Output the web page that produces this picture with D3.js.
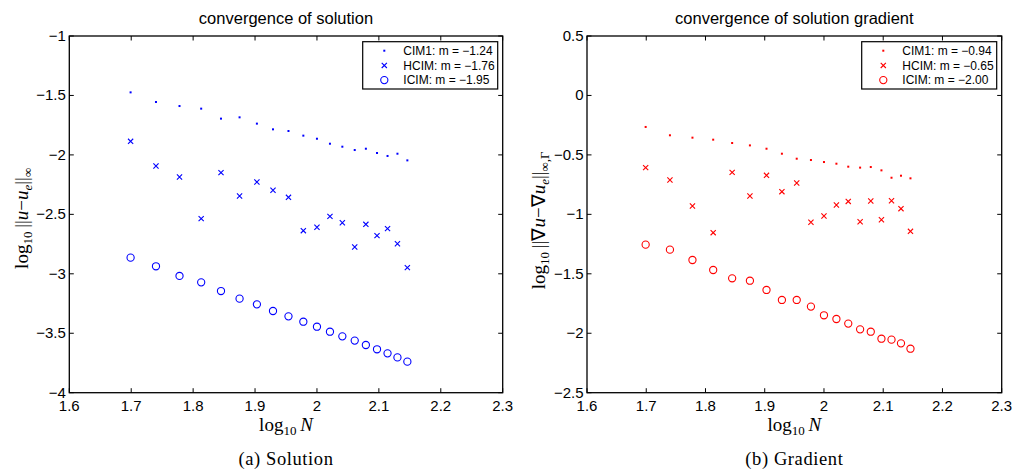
<!DOCTYPE html>
<html>
<head>
<meta charset="utf-8">
<script src="https://cdn.jsdelivr.net/npm/d3@7"></script>
<style>
  html, body { margin: 0; padding: 0; background: #fff; }
  svg { display: block; }
  .tick-label { font-family: "Liberation Sans", Arial, sans-serif; font-size: 15px; fill: #000; }
  .title { font-family: "Liberation Sans", Arial, sans-serif; font-size: 16.5px; fill: #000; }
  .legend-text { font-family: "Liberation Sans", Arial, sans-serif; font-size: 12px; fill: #000; }
  .math { font-family: "Liberation Serif", "Times New Roman", serif; font-size: 19px; fill: #000; }
  .caption { font-family: "Liberation Serif", "Times New Roman", serif; font-size: 18.5px; letter-spacing: 0.6px; fill: #000; }
</style>
</head>
<body>
<svg id="chart" width="1017" height="470"></svg>
<script>
// log10 N for each grid size
const logN = [1.699, 1.740, 1.778, 1.813, 1.845, 1.875, 1.903, 1.929, 1.954, 1.978,
              2.000, 2.021, 2.041, 2.061, 2.079, 2.097, 2.114, 2.130, 2.146];

// Solution error, log10 ||u - u_e||_inf
const solCIM1 = [-1.474, -1.555, -1.589, -1.611, -1.695, -1.684, -1.737, -1.785, -1.799, -1.838,
                 -1.864, -1.906, -1.931, -1.959, -1.948, -1.984, -2.009, -1.990, -2.046];
const solHCIM = [-1.886, -2.093, -2.186, -2.536, -2.149, -2.346, -2.228, -2.298, -2.357, -2.637,
                 -2.609, -2.517, -2.570, -2.775, -2.584, -2.679, -2.620, -2.747, -2.948];
const solICIM = [-2.864, -2.937, -3.018, -3.072, -3.145, -3.209, -3.257, -3.313, -3.358, -3.403,
                 -3.445, -3.487, -3.526, -3.562, -3.599, -3.635, -3.669, -3.703, -3.739];

// Gradient error, log10 ||grad u - grad u_e||_inf,Gamma
const gradCIM1 = [-0.265, -0.335, -0.355, -0.372, -0.400, -0.420, -0.448, -0.490, -0.532, -0.543,
                  -0.560, -0.574, -0.599, -0.607, -0.602, -0.630, -0.692, -0.675, -0.697];
const gradHCIM = [-0.607, -0.711, -0.930, -1.154, -0.647, -0.846, -0.672, -0.809, -0.736, -1.067,
                  -1.014, -0.921, -0.891, -1.062, -0.888, -1.045, -0.885, -0.952, -1.143];
const gradICIM = [-1.255, -1.297, -1.384, -1.468, -1.538, -1.558, -1.636, -1.720, -1.720, -1.776,
                  -1.849, -1.880, -1.919, -1.967, -1.987, -2.046, -2.054, -2.085, -2.130];

const xTicks = [1.6, 1.7, 1.8, 1.9, 2.0, 2.1, 2.2, 2.3];
const solYTicks = [-1, -1.5, -2, -2.5, -3, -3.5, -4];
const gradYTicks = [0.5, 0, -0.5, -1, -1.5, -2, -2.5];

const solLegend = ["CIM1: m = \u22121.24", "HCIM: m = \u22121.76", "ICIM: m = \u22121.95"];
const gradLegend = ["CIM1: m = \u22120.94", "HCIM: m = \u22120.65", "ICIM: m = \u22122.00"];
const markerKinds = ["dot", "cross", "circle"];

const fmt = v => {
  const s = (Math.round(v * 10) / 10).toString();
  return s.replace("-", "\u2212");
};

const svg = d3.select("#chart");

function drawMarker(g, kind, x, y, color) {
  if (kind === "dot") {
    g.append("rect").attr("x", x - 1).attr("y", y - 1).attr("width", 2).attr("height", 2)
      .attr("fill", color);
  } else if (kind === "cross") {
    const s = 2.6;
    g.append("path")
      .attr("d", `M${x - s},${y - s}L${x + s},${y + s}M${x - s},${y + s}L${x + s},${y - s}`)
      .attr("stroke", color).attr("stroke-width", 1.1).attr("fill", "none");
  } else {
    g.append("circle").attr("cx", x).attr("cy", y).attr("r", 3.6)
      .attr("stroke", color).attr("stroke-width", 1.1).attr("fill", "none");
  }
}

function panel(cfg) {
  const g = svg.append("g");
  const x = d3.scaleLinear().domain([1.6, 2.3]).range([cfg.left, cfg.right]);
  const y = d3.scaleLinear().domain(cfg.yDomain).range([cfg.bottom, cfg.top]);

  // inward ticks on all four sides
  const tickLen = 4.5;
  const tk = g.append("g").attr("stroke", "#000").attr("stroke-width", 1);
  xTicks.forEach(t => {
    tk.append("line").attr("x1", x(t)).attr("x2", x(t)).attr("y1", cfg.bottom).attr("y2", cfg.bottom - tickLen);
    tk.append("line").attr("x1", x(t)).attr("x2", x(t)).attr("y1", cfg.top).attr("y2", cfg.top + tickLen);
  });
  cfg.yTicks.forEach(t => {
    tk.append("line").attr("x1", cfg.left).attr("x2", cfg.left + tickLen).attr("y1", y(t)).attr("y2", y(t));
    tk.append("line").attr("x1", cfg.right).attr("x2", cfg.right - tickLen).attr("y1", y(t)).attr("y2", y(t));
  });

  // frame
  g.append("rect")
    .attr("x", cfg.left).attr("y", cfg.top)
    .attr("width", cfg.right - cfg.left).attr("height", cfg.bottom - cfg.top)
    .attr("fill", "none").attr("stroke", "#000").attr("stroke-width", 1.3);

  // tick labels
  xTicks.forEach(t => {
    g.append("text").attr("class", "tick-label")
      .attr("x", x(t)).attr("y", cfg.bottom + 18).attr("text-anchor", "middle")
      .text(fmt(t));
  });
  cfg.yTicks.forEach(t => {
    g.append("text").attr("class", "tick-label")
      .attr("x", cfg.left - 3.5).attr("y", y(t) + 5).attr("text-anchor", "end")
      .text(fmt(t));
  });

  // title
  g.append("text").attr("class", "title")
    .attr("x", (cfg.left + cfg.right) / 2).attr("y", 24).attr("text-anchor", "middle")
    .text(cfg.title);

  // data
  cfg.series.forEach((vals, i) => {
    const sg = g.append("g");
    vals.forEach((v, j) => drawMarker(sg, markerKinds[i], x(logN[j]), y(v), cfg.color));
  });

  // legend
  const lg = g.append("g");
  const lx0 = cfg.right - 5 - 135, ly0 = cfg.top + 5.7;
  lg.append("rect").attr("x", lx0).attr("y", ly0).attr("width", 135).attr("height", 47.3)
    .attr("fill", "#fff").attr("stroke", "#000").attr("stroke-width", 1.2);
  cfg.legend.forEach((txt, i) => {
    const ry = ly0 + 9 + i * 14.7;
    drawMarker(lg, markerKinds[i], lx0 + 21.6, ry, cfg.color);
    lg.append("text").attr("class", "legend-text")
      .attr("x", lx0 + 40.6).attr("y", ry + 4.3).text(txt);
  });

  // x label: log10 N
  const xl = g.append("text").attr("class", "math")
    .attr("x", (cfg.left + cfg.right) / 2).attr("y", 431).attr("text-anchor", "middle");
  xl.append("tspan").text("log");
  xl.append("tspan").attr("font-size", "13px").attr("dy", 4).text("10");
  xl.append("tspan").attr("dy", -4).text("\u2009");
  xl.append("tspan").attr("font-style", "italic").text("N");

  // y label
  const yl = g.append("text").attr("class", "math")
    .attr("transform", `translate(${cfg.ylabelX},${(cfg.top + cfg.bottom) / 2 + cfg.ylabelDy}) rotate(-90)`)
    .attr("text-anchor", "middle");
  cfg.ylabel(yl);

  // caption
  g.append("text").attr("class", "caption")
    .attr("x", (cfg.left + cfg.right) / 2).attr("y", 465).attr("text-anchor", "middle")
    .text(cfg.caption);
}

panel({
  left: 69.3, right: 502.7, top: 36, bottom: 392.7,
  yDomain: [-4, -1], yTicks: solYTicks,
  title: "convergence of solution",
  series: [solCIM1, solHCIM, solICIM],
  legend: solLegend, color: "#0000ff",
  caption: "(a) Solution",
  ylabelX: 28, ylabelDy: 4,
  ylabel: t => {
    t.append("tspan").text("log");
    t.append("tspan").attr("font-size", "13px").attr("dy", 4).text("10");
    t.append("tspan").attr("dy", -4).text("\u2009||");
    t.append("tspan").attr("font-style", "italic").text("u");
    t.append("tspan").text("\u2212");
    t.append("tspan").attr("font-style", "italic").text("u");
    t.append("tspan").attr("font-style", "italic").attr("font-size", "13px").attr("dy", 4).text("e");
    t.append("tspan").attr("dy", -4).text("||");
    t.append("tspan").attr("font-size", "13px").attr("dy", 4).text("\u221e");
  }
});

panel({
  left: 587, right: 1001.7, top: 36, bottom: 392.7,
  yDomain: [-2.5, 0.5], yTicks: gradYTicks,
  title: "convergence of solution gradient",
  series: [gradCIM1, gradHCIM, gradICIM],
  legend: gradLegend, color: "#ff0000",
  caption: "(b) Gradient",
  ylabelX: 545, ylabelDy: 6,
  ylabel: t => {
    t.append("tspan").text("log");
    t.append("tspan").attr("font-size", "13px").attr("dy", 4).text("10");
    t.append("tspan").attr("dy", -4).text("\u2009||\u2207");
    t.append("tspan").attr("font-style", "italic").text("u");
    t.append("tspan").text("\u2212\u2207");
    t.append("tspan").attr("font-style", "italic").text("u");
    t.append("tspan").attr("font-style", "italic").attr("font-size", "13px").attr("dy", 4).text("e");
    t.append("tspan").attr("dy", -4).text("||");
    t.append("tspan").attr("font-size", "13px").attr("dy", 4).text("\u221e,\u0393");
  }
});
</script>
</body>
</html>
